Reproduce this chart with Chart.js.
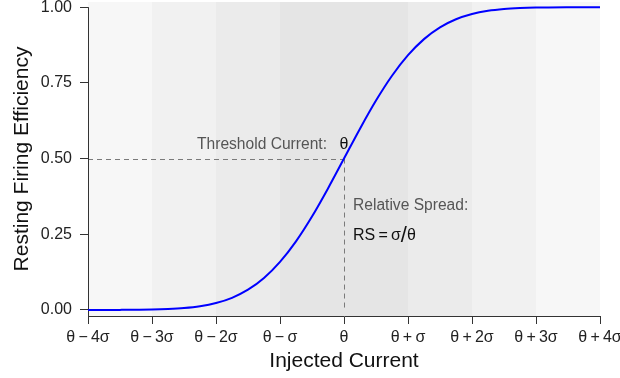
<!DOCTYPE html>
<html>
<head>
<meta charset="utf-8">
<script src="https://cdn.jsdelivr.net/npm/chart.js@4.4.1/dist/chart.umd.min.js"></script>
<style>
  html, body { margin: 0; padding: 0; background: #fff; }
</style>
</head>
<body>
<canvas id="chart" width="620" height="378"></canvas>
<script>
// x positions in units of sigma around theta
var sigmaSteps = [-4, -3, -2, -1, 0, 1, 2, 3, 4];
var tickLabels = ['θ\u2009−\u20094σ', 'θ\u2009−\u20093σ', 'θ\u2009−\u20092σ', 'θ\u2009−\u2009σ', 'θ',
                  'θ\u2009+\u2009σ', 'θ\u2009+\u20092σ', 'θ\u2009+\u20093σ', 'θ\u2009+\u20094σ'];
var yTicks = [0, 0.25, 0.5, 0.75, 1];

// curve
var current = [-4, -3.5, -3, -2.75, -2.5, -2.25, -2, -1.75, -1.5, -1.25, -1, -0.75, -0.5, -0.25, 0,
               0.25, 0.5, 0.75, 1, 1.25, 1.5, 1.75, 2, 2.25, 2.5, 2.75, 3, 3.5, 4];
var efficiency = [0, 0.0002, 0.0013, 0.003, 0.0062, 0.0122, 0.0228, 0.0401, 0.0668, 0.1056, 0.1587, 0.2266, 0.3085, 0.4013, 0.5,
                  0.5987, 0.6915, 0.7734, 0.8413, 0.8944, 0.9332, 0.9599, 0.9772, 0.9878, 0.9938, 0.997, 0.9987, 0.9998, 1];

var bandShades = ['#f7f7f7', '#f1f1f1', '#ebebeb', '#e5e5e5', '#e5e5e5', '#ebebeb', '#f1f1f1', '#f7f7f7'];
var FONT = '"Liberation Sans", Arial, sans-serif';

var points = current.map(function (x, i) { return { x: x, y: efficiency[i] }; });

var decor = {
  id: 'decor',
  beforeDraw: function (chart) {
    var ctx = chart.ctx, a = chart.chartArea, xs = chart.scales.x;
    ctx.save();
    for (var i = 0; i < bandShades.length; i++) {
      var l = xs.getPixelForValue(sigmaSteps[i]);
      var r = xs.getPixelForValue(sigmaSteps[i + 1]);
      ctx.fillStyle = bandShades[i];
      ctx.fillRect(l, a.top, r - l, a.bottom - a.top);
    }
    ctx.restore();
  },
  beforeDatasetsDraw: function (chart) {
    var ctx = chart.ctx, xs = chart.scales.x, ys = chart.scales.y, a = chart.chartArea;
    var px = xs.getPixelForValue(0), py = ys.getPixelForValue(0.5), p0 = ys.getPixelForValue(0);
    ctx.save();
    ctx.strokeStyle = '#7a7a7a';
    ctx.lineWidth = 1;
    ctx.setLineDash([5, 4]);
    ctx.beginPath();
    ctx.moveTo(a.left, Math.round(py) + 0.5);
    ctx.lineTo(px, Math.round(py) + 0.5);
    ctx.moveTo(Math.round(px) + 0.5, py);
    ctx.lineTo(Math.round(px) + 0.5, p0);
    ctx.stroke();
    ctx.setLineDash([]);

    // y axis line from 1 down to the x axis
    ctx.strokeStyle = '#333';
    ctx.beginPath();
    ctx.moveTo(Math.round(a.left) + 0.5, ys.getPixelForValue(1));
    ctx.lineTo(Math.round(a.left) + 0.5, a.bottom);
    ctx.stroke();

    ctx.textBaseline = 'middle';
    ctx.font = '15.6px ' + FONT;
    ctx.fillStyle = '#555';
    ctx.textAlign = 'right';
    ctx.fillText('Threshold Current:', px - 17, py - 14);
    ctx.fillStyle = '#111';
    ctx.textAlign = 'center';
    ctx.font = '16px ' + FONT;
    ctx.fillText('θ', px, py - 14);

    ctx.textAlign = 'left';
    ctx.font = '15.6px ' + FONT;
    ctx.fillStyle = '#555';
    ctx.fillText('Relative Spread:', px + 9, py + 47);
    ctx.fillStyle = '#111';
    ctx.font = '16px ' + FONT;
    var x0 = px + 9, yy = py + 77;
    var s1 = 'RS\u2009=\u2009σ';
    ctx.fillText(s1, x0, yy);
    x0 += ctx.measureText(s1).width;
    ctx.font = '22px ' + FONT;
    ctx.fillText('/', x0, yy);
    x0 += ctx.measureText('/').width;
    ctx.font = '16px ' + FONT;
    ctx.fillText('θ', x0, yy);
    ctx.restore();
  }
};

new Chart(document.getElementById('chart'), {
  type: 'line',
  data: {
    datasets: [{
      data: points,
      borderColor: '#0000ff',
      borderWidth: 2,
      pointRadius: 0,
      fill: false,
      cubicInterpolationMode: 'monotone'
    }]
  },
  options: {
    responsive: false,
    animation: false,
    devicePixelRatio: 1,
    layout: { padding: { top: 2, right: 20, left: 0, bottom: 0 } },
    plugins: { legend: { display: false }, tooltip: { enabled: false } },
    scales: {
      x: {
        type: 'linear',
        min: -4,
        max: 4,
        afterBuildTicks: function (s) { s.ticks = sigmaSteps.map(function (v) { return { value: v }; }); },
        afterFit: function (s) { s.height = 62; s.paddingLeft = 0; s.paddingRight = 0; },
        ticks: {
          color: '#222',
          padding: 4,
          maxRotation: 0,
          autoSkip: false,
          font: { family: FONT, size: 16 },
          callback: function (v, i) { return tickLabels[i]; }
        },
        grid: { drawOnChartArea: false, drawTicks: true, tickLength: 8, color: '#333' },
        border: { display: true, color: '#333' },
        title: {
          display: true,
          text: 'Injected Current',
          color: '#111',
          font: { family: FONT, size: 21 },
          padding: { top: 0, bottom: 4 }
        }
      },
      y: {
        min: -0.02,
        max: 1.017,
        afterBuildTicks: function (s) { s.ticks = yTicks.map(function (v) { return { value: v }; }); },
        afterFit: function (s) { s.width = 88; s.paddingTop = 0; s.paddingBottom = 0; },
        ticks: {
          color: '#222',
          padding: 8,
          font: { family: FONT, size: 16 },
          callback: function (v) { return v.toFixed(2); }
        },
        grid: { drawOnChartArea: false, drawTicks: true, tickLength: 8, color: '#333' },
        border: { display: false },
        title: {
          display: true,
          text: 'Resting Firing Efficiency',
          color: '#111',
          font: { family: FONT, size: 21 },
          padding: { top: 10, bottom: 0 }
        }
      }
    }
  },
  plugins: [decor]
});
</script>
</body>
</html>
